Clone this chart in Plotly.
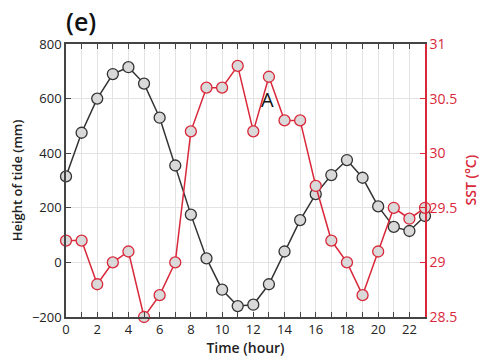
import plotly.graph_objects as go

hours = list(range(24))
tide_mm = [315, 475, 600, 690, 715, 655, 530, 355, 175, 15, -100, -160, -155, -80,
           40, 155, 250, 320, 375, 310, 205, 130, 115, 170]
sst_c = [29.2, 29.2, 28.8, 29.0, 29.1, 28.5, 28.7, 29.0, 30.2, 30.6, 30.6, 30.8,
         30.2, 30.7, 30.3, 30.3, 29.7, 29.2, 29.0, 28.7, 29.1, 29.5, 29.4, 29.5]
x_ticks = list(range(0, 24, 2))
y_ticks = [-200, 0, 200, 400, 600, 800]
y2_ticks = [28.5, 29, 29.5, 30, 30.5, 31]

DARK = "#333333"
RED = "#d9283a"
FILL = "#d9d9d9"
FONT = "Open Sans"

fig = go.Figure()
fig.add_trace(go.Scatter(
    x=hours, y=tide_mm, mode="lines+markers", name="Tide", cliponaxis=False,
    line=dict(color=DARK, width=1.5),
    marker=dict(size=11, color=FILL, line=dict(color=DARK, width=1.3)),
))
fig.add_trace(go.Scatter(
    x=hours, y=sst_c, mode="lines+markers", name="SST", yaxis="y2", cliponaxis=False,
    line=dict(color=RED, width=1.5),
    marker=dict(size=11, color=FILL, line=dict(color=RED, width=1.3)),
))

fig.update_layout(
    width=481, height=363,
    margin=dict(l=66, r=56, t=44, b=46),
    paper_bgcolor="white", plot_bgcolor="white",
    showlegend=False,
    font=dict(family=FONT, size=13, color="#222222"),
    xaxis=dict(
        range=[0, 23], tickvals=x_ticks, ticktext=[str(v) for v in x_ticks],
        showgrid=False, zeroline=False,
        showline=True, linecolor="#444444", linewidth=1.5, mirror="ticks",
        ticks="inside", ticklen=5, tickcolor="#444444",
        minor=dict(dtick=1, tick0=0, ticks="inside", ticklen=5, tickcolor="#444444",
                   showgrid=True, gridcolor="#e3e3e3", gridwidth=1),
        title=dict(text="Time (hour)", font=dict(size=14, weight=600), standoff=4),
        tickfont=dict(size=13),
    ),
    yaxis=dict(
        range=[-200, 800], tickvals=y_ticks,
        showgrid=True, gridcolor="#e3e3e3", gridwidth=1, zeroline=False,
        showline=True, linecolor="#444444", linewidth=1.5,
        ticks="inside", ticklen=5, tickcolor="#444444",
        title=dict(text="Height of tide (mm)", font=dict(size=13, weight=600), standoff=6),
        tickfont=dict(size=13),
    ),
    yaxis2=dict(
        range=[28.5, 31], tickvals=y2_ticks, ticktext=["28.5", "29", "29.5", "30", "30.5", "31"],
        overlaying="y", side="right", showgrid=False, zeroline=False,
        showline=True, linecolor=RED, linewidth=1.5,
        ticks="inside", ticklen=5, tickcolor=RED,
        tickfont=dict(size=14, color=RED),
    ),
    annotations=[
        dict(text="(e)", xref="paper", yref="paper", x=-0.005, y=1.0, xanchor="left",
             yanchor="bottom", yshift=4, showarrow=False,
             font=dict(size=25, color="#111111", weight=600)),
        dict(text="A", x=12.9, y=595, xref="x", yref="y", showarrow=False,
             font=dict(size=20, color="#111111")),
        dict(text="SST (°C)", xref="paper", yref="paper", x=1.0, y=0.5, xshift=45,
             textangle=-90, showarrow=False, xanchor="center", yanchor="middle",
             font=dict(size=14, color=RED, weight=600)),
    ],
)

fig.write_html("out.html")
